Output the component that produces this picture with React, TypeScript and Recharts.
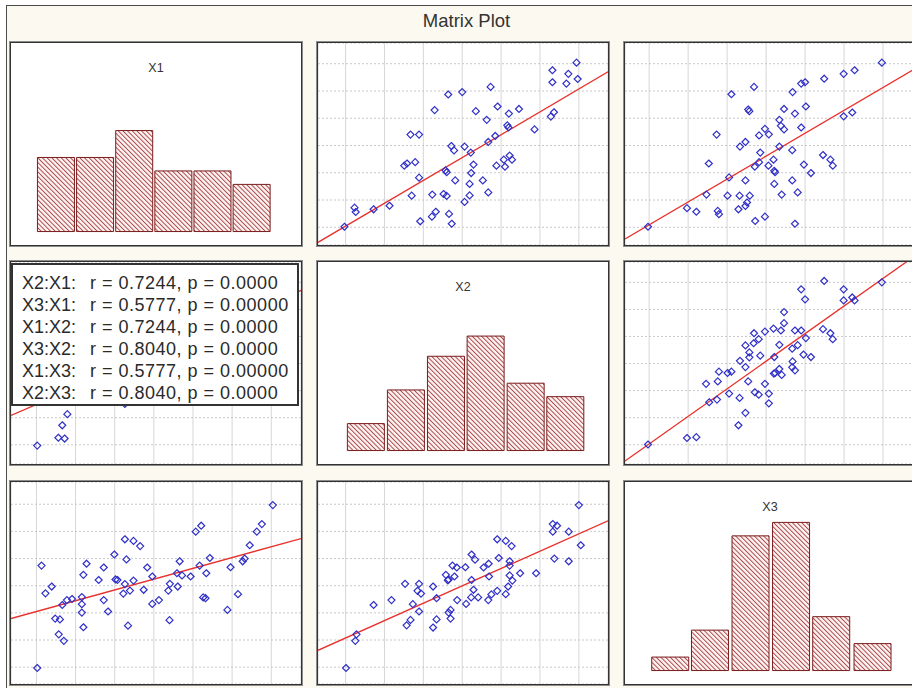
import React from "react";
import {
  ScatterChart,
  Scatter,
  BarChart,
  Bar,
  XAxis,
  YAxis,
  CartesianGrid,
  ReferenceLine,
} from "recharts";

// every variable is drawn on the same grid: lines at 0..6
const varNames = ["X1", "X2", "X3"];
const varDomains: [number, number][] = [
  [-0.65, 6.76],
  [-0.71, 6.75],
  [-0.62, 6.82],
];
const gridTicks = [0, 1, 2, 3, 4, 5, 6];

// histogram bins (mid point, count)
const x1BinMids = [0.5, 1.5, 2.5, 3.5, 4.5, 5.5];
const x1Counts = [11, 11, 15, 9, 9, 7];
const x2BinMids = [0.53, 1.56, 2.59, 3.61, 4.64, 5.66];
const x2Counts = [4, 9, 14, 17, 10, 8];
const x3BinMids = [0.55, 1.57, 2.61, 3.65, 4.68, 5.74];
const x3Counts = [2, 6, 20, 22, 8, 4];

// [X2, X1]
const x2x1: [number, number][] = [
  [-0.03, 0.02], [0.23, 0.72], [0.26, 0.56], [0.72, 0.66], [1.13, 0.79],
  [1.67, 3.4], [1.89, 3.4], [1.51, 2.26], [1.58, 2.34], [1.79, 2.39],
  [1.89, 1.82], [1.7, 1.16], [1.92, 0.22], [2.23, 1.2], [2.22, 0.39],
  [2.32, 0.57], [2.29, 4.3], [2.64, 4.87], [3.0, 4.96], [2.52, 1.22],
  [2.6, 1.15], [2.57, 2.09], [2.6, 2.02], [2.72, 2.98], [2.79, 2.82],
  [2.82, 1.72], [2.66, 0.49], [2.73, 0.13], [3.06, 0.93], [3.19, 1.17],
  [3.06, 2.96], [3.22, 2.74], [3.29, 2.3], [3.23, 1.99], [3.19, 1.59],
  [3.35, 4.26], [3.63, 3.94], [3.73, 5.15], [3.91, 4.43], [3.67, 3.13],
  [3.85, 3.35], [3.53, 1.72], [3.67, 1.28], [3.88, 2.26], [4.07, 2.48],
  [4.1, 2.22], [4.22, 2.63], [4.28, 2.48], [4.2, 4.17], [4.16, 3.74],
  [4.19, 3.66], [4.46, 4.34], [4.86, 3.59], [5.28, 4.06], [5.36, 4.22],
  [5.32, 5.76], [5.32, 5.32], [5.68, 5.27], [5.73, 5.63], [5.94, 6.04],
  [5.97, 5.44],
];

// [X3, X1]
const x3x1: [number, number][] = [
  [-0.03, 0.02], [0.97, 0.7], [1.21, 0.57], [1.47, 1.2], [1.53, 2.34],
  [1.73, 3.4], [1.76, 0.6], [1.79, 0.48], [2.05, 1.83], [2.01, 1.16],
  [2.11, 4.88], [2.33, 2.96], [2.47, 3.13], [2.54, 4.32], [2.57, 4.26],
  [2.32, 1.16], [2.29, 0.66], [2.47, 0.78], [2.51, 0.91], [2.58, 1.16],
  [2.47, 1.72], [2.69, 5.15], [2.71, 2.22], [2.82, 2.39], [2.85, 2.74],
  [2.82, 3.37], [2.97, 3.61], [3.07, 3.41], [2.72, 0.23], [2.97, 0.39],
  [3.06, 2.26], [3.19, 2.48], [3.21, 2.07], [3.23, 2.02], [3.21, 1.59],
  [3.4, 1.2], [3.34, 2.96], [3.34, 3.94], [3.38, 3.72], [3.46, 3.59],
  [3.46, 4.34], [3.68, 4.96], [3.74, 4.17], [3.67, 2.83], [3.67, 1.72],
  [3.81, 1.28], [3.74, 0.13], [3.9, 3.66], [3.9, 5.27], [4.0, 5.32],
  [4.02, 4.43], [3.97, 2.3], [4.15, 1.99], [4.49, 5.45], [4.46, 2.65],
  [4.65, 2.48], [4.71, 2.26], [4.99, 5.63], [5.27, 5.76], [4.99, 4.07],
  [5.21, 4.21], [5.97, 6.04],
];

// [X3, X2]
const x3x2: [number, number][] = [
  [-0.03, 0.01], [0.97, 0.25], [1.21, 0.28], [1.46, 2.25], [1.54, 1.57],
  [1.74, 1.67], [1.76, 2.34], [1.79, 2.7], [2.01, 2.65], [2.11, 2.7],
  [2.05, 1.89], [2.32, 1.73], [2.29, 0.72], [2.47, 1.18], [2.33, 3.1],
  [2.47, 2.87], [2.47, 3.67], [2.57, 3.41], [2.57, 3.23], [2.54, 2.34],
  [2.69, 4.12], [2.68, 3.75], [2.81, 3.9], [2.85, 3.29], [2.71, 1.94],
  [2.81, 1.85], [2.97, 2.25], [3.07, 1.89], [3.07, 1.53], [2.97, 4.18],
  [3.19, 4.29], [3.21, 3.24], [3.2, 2.63], [3.23, 2.65], [3.34, 2.8],
  [3.4, 2.58], [3.34, 3.69], [3.38, 4.22], [3.46, 4.49], [3.46, 4.9],
  [3.67, 3.55], [3.68, 3.08], [3.67, 2.86], [3.74, 2.75], [3.74, 4.22],
  [3.81, 3.68], [3.9, 4.22], [3.9, 5.74], [4.0, 5.37], [4.02, 3.94],
  [3.96, 3.33], [4.15, 3.24], [4.49, 6.05], [4.46, 4.27], [4.65, 4.12],
  [4.71, 3.9], [4.99, 5.74], [4.99, 5.33], [5.21, 5.44], [5.27, 5.33],
  [5.97, 6.0],
];

const corrLabels = ["X2:X1:", "X3:X1:", "X1:X2:", "X3:X2:", "X1:X3:", "X2:X3:"];
const corrValues = [
  "r = 0.7244, p = 0.0000",
  "r = 0.5777, p = 0.00000",
  "r = 0.7244, p = 0.0000",
  "r = 0.8040, p = 0.0000",
  "r = 0.5777, p = 0.00000",
  "r = 0.8040, p = 0.0000",
];

const FONT = '"Liberation Sans", Arial, Helvetica, sans-serif';
const colLeft = [10, 317, 624];
const rowTop = [42, 261, 481];
const PW = 290;
const PH = 202;

const panelStyle = (r: number, c: number): React.CSSProperties => ({
  position: "absolute",
  left: colLeft[c],
  top: rowTop[r],
  width: PW,
  height: PH,
  background: "#fff",
  border: "1px solid #333",
  boxShadow: "0 0 0 1px #8c8c8c",
});

const Diamond = (p: any) => {
  const { cx, cy } = p;
  if (cx == null || cy == null) return <g />;
  const r = 3.5;
  return (
    <path
      d={`M${cx},${cy - r}L${cx + r},${cy}L${cx},${cy + r}L${cx - r},${cy}Z`}
      fill="none"
      stroke="#3030c8"
      strokeWidth={1.2}
    />
  );
};

function fit(data: { x: number; y: number }[]) {
  const n = data.length;
  const mx = data.reduce((s, d) => s + d.x, 0) / n;
  const my = data.reduce((s, d) => s + d.y, 0) / n;
  let sxy = 0;
  let sxx = 0;
  data.forEach((d) => {
    sxy += (d.x - mx) * (d.y - my);
    sxx += (d.x - mx) * (d.x - mx);
  });
  const b = sxy / sxx;
  return { a: my - b * mx, b };
}

function ScatterPanel({
  pts,
  row,
  col,
  flip,
}: {
  pts: [number, number][];
  row: number;
  col: number;
  flip?: boolean;
}) {
  const data = pts.map(([u, v]) => (flip ? { x: v, y: u } : { x: u, y: v }));
  const xd = varDomains[col];
  const yd = varDomains[row];
  const { a, b } = fit(data);
  return (
    <div style={panelStyle(row, col)}>
      <ScatterChart width={PW} height={PH} margin={{ top: 0, right: 0, bottom: 0, left: 0 }}>
        <XAxis type="number" dataKey="x" domain={xd} ticks={gridTicks} allowDataOverflow hide />
        <YAxis type="number" dataKey="y" domain={yd} ticks={gridTicks} allowDataOverflow hide />
        <CartesianGrid horizontal={false} stroke="#d6d6d6" />
        <CartesianGrid vertical={false} stroke="#c8c8c8" strokeDasharray="2 2" />
        <ReferenceLine
          segment={[
            { x: xd[0], y: a + b * xd[0] },
            { x: xd[1], y: a + b * xd[1] },
          ]}
          stroke="#e8312c"
          strokeWidth={1.3}
          ifOverflow="hidden"
        />
        <Scatter data={data} shape={<Diamond />} isAnimationActive={false} />
      </ScatterChart>
    </div>
  );
}

function HistPanel({ idx, mids, counts }: { idx: number; mids: number[]; counts: number[] }) {
  const data = mids.map((m, i) => ({ mid: m, count: counts[i] }));
  const pid = `hatch-${idx}`;
  return (
    <div style={panelStyle(idx, idx)}>
      <BarChart width={PW} height={PH} data={data} margin={{ top: 0, right: 0, bottom: 0, left: 0 }}>
        <defs>
          <pattern
            id={pid}
            width={3.3}
            height={3.3}
            patternUnits="userSpaceOnUse"
            patternTransform="rotate(-45)"
          >
            <rect width={3.3} height={3.3} fill="#fdf3f3" />
            <line x1={0.5} y1={0} x2={0.5} y2={3.3} stroke="#a33a3a" strokeWidth={0.9} />
          </pattern>
        </defs>
        <XAxis type="number" dataKey="mid" domain={varDomains[idx]} allowDataOverflow hide />
        <YAxis type="number" domain={[-2, 28]} allowDataOverflow hide />
        <Bar
          dataKey="count"
          barSize={37}
          fill={`url(#${pid})`}
          stroke="#7a1c1c"
          strokeWidth={1}
          isAnimationActive={false}
        />
      </BarChart>
      <div
        style={{
          position: "absolute",
          left: 0,
          top: 18,
          width: PW,
          textAlign: "center",
          fontFamily: FONT,
          fontSize: 12.5,
          color: "#333",
        }}
      >
        {varNames[idx]}
      </div>
    </div>
  );
}

export default function App() {
  return (
    <div
      style={{
        position: "fixed",
        left: 0,
        top: 0,
        width: 912,
        height: 688,
        overflow: "hidden",
        background: "#fff",
      }}
    >
      <div
        style={{
          position: "absolute",
          left: 6,
          top: 5,
          width: 1000,
          height: 1000,
          borderLeft: "1px solid #4a4a4a",
          borderTop: "1px solid #4a4a4a",
          background: "#fcf9f0",
        }}
      />
      <div
        style={{
          position: "absolute",
          left: 6,
          top: 10,
          width: 921,
          textAlign: "center",
          fontFamily: FONT,
          fontSize: 18.5,
          color: "#333",
        }}
      >
        Matrix Plot
      </div>

      <HistPanel idx={0} mids={x1BinMids} counts={x1Counts} />
      <ScatterPanel pts={x2x1} row={0} col={1} />
      <ScatterPanel pts={x3x1} row={0} col={2} />

      <ScatterPanel pts={x2x1} row={1} col={0} flip />
      <HistPanel idx={1} mids={x2BinMids} counts={x2Counts} />
      <ScatterPanel pts={x3x2} row={1} col={2} />

      <ScatterPanel pts={x3x1} row={2} col={0} flip />
      <ScatterPanel pts={x3x2} row={2} col={1} flip />
      <HistPanel idx={2} mids={x3BinMids} counts={x3Counts} />

      <div
        style={{
          position: "absolute",
          left: 11,
          top: 263,
          width: 288,
          height: 143,
          background: "#fff",
          border: "2px solid #333",
          fontFamily: FONT,
          fontSize: 18,
          color: "#2a2a2a",
          lineHeight: "22px",
          paddingTop: 7,
          boxSizing: "border-box",
        }}
      >
        {corrLabels.map((l, i) => (
          <div key={l + i} style={{ position: "relative", height: 22, whiteSpace: "nowrap" }}>
            <span style={{ position: "absolute", left: 9 }}>{l}</span>
            <span style={{ position: "absolute", left: 77, letterSpacing: 0.5 }}>{corrValues[i]}</span>
          </div>
        ))}
      </div>
    </div>
  );
}
